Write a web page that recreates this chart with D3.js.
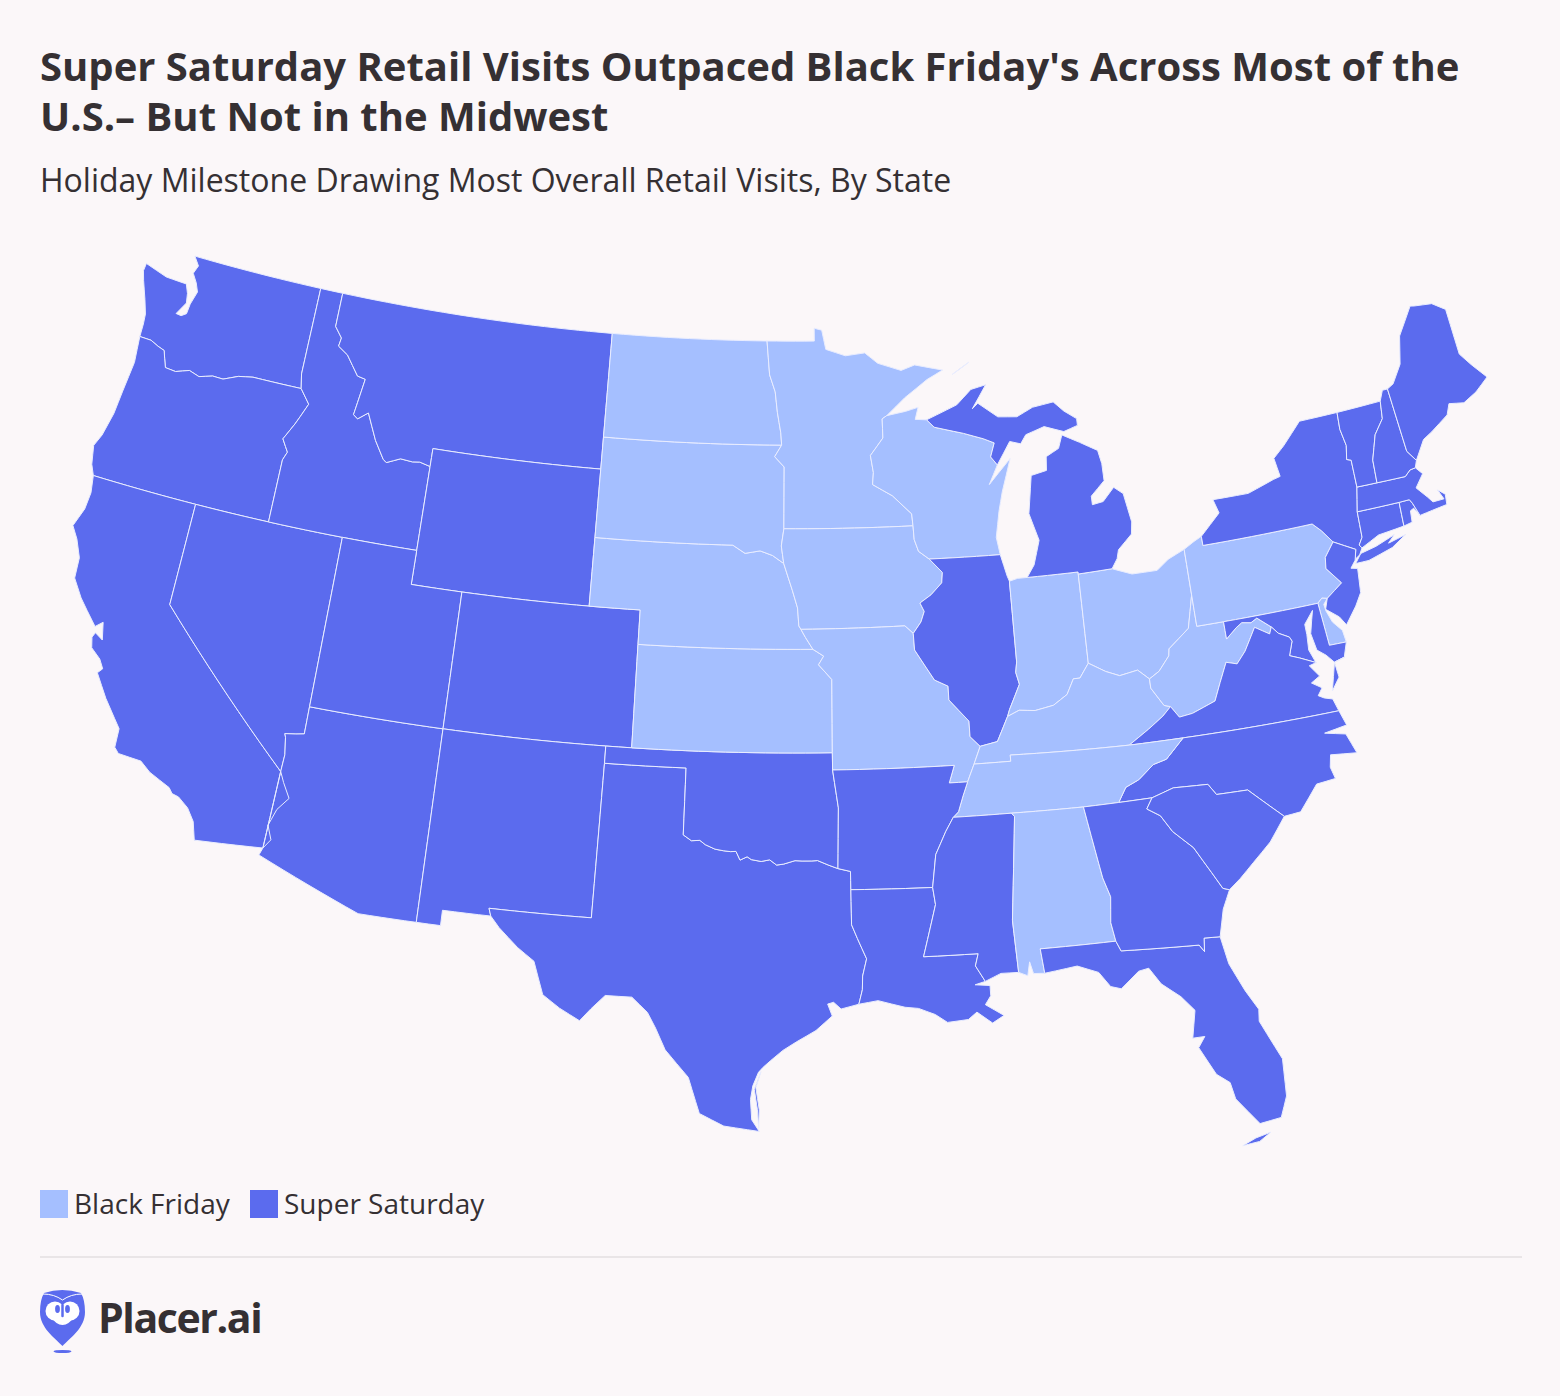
<!DOCTYPE html>
<html>
<head>
<meta charset="utf-8">
<title>Super Saturday vs Black Friday</title>
<script src="https://cdn.jsdelivr.net/npm/d3@7/dist/d3.min.js"></script>
<style>
  html, body { margin: 0; background: #fbf7f9; }
  text { font-family: "Open Sans", sans-serif; fill: #353033; }
</style>
</head>
<body>
<div id="chart"></div>
<script>
const titleLines = ["Super Saturday Retail Visits Outpaced Black Friday's Across Most of the", "U.S.– But Not in the Midwest"];
const subtitle = "Holiday Milestone Drawing Most Overall Retail Visits, By State";
const milestones = ["Black Friday", "Super Saturday"];

// border arcs in lon/lat, shared by the states on both sides
const waCoast = [[-122.76,49],[-122.49,48.75],[-122.62,48.5],[-122.38,48.25],[-122.22,48],[-122.38,47.6],[-122.42,47.3],[-122.62,47.2],[-122.85,47.22],[-122.55,47.6],[-122.62,47.88],[-122.78,48.14],[-123.12,48.15],[-123.7,48.17],[-124.7,48.38],[-124.73,48.15],[-124.6,47.88],[-124.3,47.35],[-124.1,46.95],[-124.06,46.65],[-124.05,46.27]];
const waOr = [[-124.05,46.27],[-123.55,46.26],[-123.2,46.15],[-122.9,46.08],[-122.78,45.85],[-122.65,45.61],[-122.2,45.58],[-121.65,45.72],[-121.2,45.62],[-120.65,45.74],[-120.2,45.73],[-119.6,45.92],[-119,46],[-116.92,46]];
const waId = [[-117.04,49],[-117.04,46.42],[-116.92,46]];
const waNorth = [[-117.04,49],[-122.76,49]];
const orCoast = [[-124.05,46.27],[-123.95,45.5],[-124.07,44.6],[-124.15,43.9],[-124.35,43.2],[-124.55,42.84],[-124.4,42.3],[-124.21,42]];
const orCa = [[-124.21,42],[-120,42]];
const orNv = [[-120,42],[-117.03,42]];
const orId = [[-116.92,46],[-116.47,45.6],[-116.7,45.2],[-116.85,44.95],[-117.2,44.45],[-117.03,44.25],[-116.9,44.1],[-117.03,43.85],[-117.03,42]];
const caCoast = [[-124.21,42],[-124.1,41.5],[-124.15,41],[-124.4,40.44],[-124.1,40.1],[-123.8,39.6],[-123.75,39],[-123.3,38.5],[-122.95,38.2],[-122.5,37.82],[-122.25,38],[-122.1,37.5],[-122.42,37.65],[-122.5,37.5],[-122.4,37.2],[-122,36.95],[-121.8,36.7],[-121.95,36.55],[-121.4,35.9],[-120.9,35.4],[-120.65,35.15],[-120.63,34.6],[-120.45,34.45],[-119.6,34.4],[-119.2,34.15],[-118.8,34],[-118.4,33.85],[-118.25,33.7],[-118,33.65],[-117.6,33.4],[-117.3,33.05],[-117.12,32.53]];
const caMx = [[-117.12,32.53],[-114.72,32.72]];
const caAz = [[-114.72,32.72],[-114.5,33],[-114.7,33.4],[-114.5,33.9],[-114.15,34.28],[-114.45,34.7],[-114.63,35]];
const caNv = [[-120,42],[-120,39],[-114.63,35]];
const nvAz = [[-114.63,35],[-114.6,35.5],[-114.7,36],[-114.75,36.1],[-114.35,36.15],[-114.05,36.2],[-114.05,37]];
const nvUt = [[-114.05,37],[-114.04,42]];
const nvId = [[-117.03,42],[-114.04,42]];
const azUt = [[-114.05,37],[-109.05,37]];
const azNm = [[-109.05,37],[-109.05,31.33]];
const azMx = [[-109.05,31.33],[-111.07,31.33],[-114.81,32.5],[-114.72,32.72]];
const idUt = [[-114.04,42],[-111.05,42]];
const idWy = [[-111.05,42],[-111.05,44.47]];
const idMt = [[-111.05,44.47],[-111.5,44.55],[-111.8,44.52],[-112.3,44.55],[-112.85,44.37],[-113,44.45],[-113.45,44.95],[-113.95,45.7],[-114.35,45.47],[-114.55,45.57],[-114.35,46.65],[-114.7,46.7],[-115.3,47.25],[-115.75,47.45],[-115.7,47.7],[-116.05,48],[-116.05,49]];
const idNorth = [[-116.05,49],[-117.04,49]];
const mtNorth = [[-116.05,49],[-104.05,49]];
const mtWy = [[-111.05,44.47],[-111.05,45],[-104.05,45]];
const ndMt = [[-104.05,49],[-104.05,45.94]];
const sdMt = [[-104.05,45.94],[-104.05,45]];
const wySd = [[-104.05,45],[-104.05,43]];
const wyNe = [[-104.05,43],[-104.05,41]];
const wyCo = [[-104.05,41],[-109.05,41]];
const wyUt = [[-109.05,41],[-111.05,41],[-111.05,42]];
const utCo = [[-109.05,41],[-109.05,37]];
const coNe = [[-104.05,41],[-102.05,41],[-102.05,40]];
const coKs = [[-102.05,40],[-102.04,37]];
const coOk = [[-102.04,37],[-103,37]];
const coNm = [[-103,37],[-109.05,37]];
const nmOk = [[-103,37],[-103,36.5]];
const nmTx = [[-103,36.5],[-103.06,32],[-106.62,32],[-106.53,31.78]];
const nmMx = [[-106.53,31.78],[-108.21,31.78],[-108.21,31.33],[-109.05,31.33]];
const txMx = [[-106.53,31.78],[-106.2,31.47],[-105.5,30.95],[-104.9,30.6],[-104.5,29.65],[-103.9,29.3],[-103.2,28.98],[-102.85,29.35],[-102.4,29.77],[-101.5,29.77],[-100.95,29.35],[-100.65,28.9],[-100.3,28.28],[-99.5,27.5],[-99.1,26.45],[-98.3,26.1],[-97.15,25.96]];
const txCoast = [[-97.15,25.96],[-97.4,26.3],[-97.45,26.9],[-97.38,27.3],[-97.2,27.7],[-97.05,27.85],[-96.8,28.05],[-96.4,28.35],[-95.95,28.6],[-95.3,28.93],[-94.75,29.35],[-94.9,29.7],[-94.7,29.75],[-94.45,29.55],[-93.85,29.68]];
const padre = [[-97.17,26.05],[-97.22,26.6],[-97.33,27.2],[-97.12,27.72],[-97.28,27.25],[-97.16,26.6]];
const txLa = [[-94.04,33.02],[-94.04,32],[-93.85,31.6],[-93.55,31],[-93.7,30.5],[-93.72,30.1],[-93.85,29.68]];
const txAr = [[-94.48,33.64],[-94.04,33.55],[-94.04,33.02]];
const txOk = [[-103,36.5],[-100,36.5],[-100,34.56],[-99.7,34.4],[-99.4,34.42],[-99.2,34.3],[-98.85,34.18],[-98.55,34.14],[-98.3,34.12],[-98.1,34.13],[-97.95,33.88],[-97.7,33.98],[-97.55,33.9],[-97.2,33.85],[-96.9,33.9],[-96.65,33.75],[-96.4,33.78],[-96,33.88],[-95.75,33.87],[-95.4,33.87],[-95.2,33.88],[-94.8,33.74],[-94.48,33.64]];
const okKs = [[-102.04,37],[-94.62,37]];
const okMo = [[-94.62,37],[-94.62,36.5]];
const okAr = [[-94.62,36.5],[-94.43,35.4],[-94.48,33.64]];
const neKs = [[-102.05,40],[-95.31,40]];
const ksMo = [[-95.31,40],[-94.9,39.8],[-95.1,39.55],[-94.6,39.12],[-94.62,37]];
const neSd = [[-104.05,43],[-98.5,43],[-98,42.77],[-97.4,42.85],[-96.9,42.72],[-96.45,42.49]];
const neIa = [[-96.45,42.49],[-96.1,41.7],[-95.9,41.2],[-95.85,40.68],[-95.77,40.58]];
const neMo = [[-95.77,40.58],[-95.6,40.35],[-95.31,40]];
const sdNd = [[-104.05,45.94],[-96.56,45.94]];
const sdMn = [[-96.56,45.94],[-96.85,45.6],[-96.45,45.3],[-96.45,43.5]];
const sdIa = [[-96.45,43.5],[-96.55,43],[-96.45,42.49]];
const ndNorth = [[-104.05,49],[-97.23,49]];
const ndMn = [[-97.23,49],[-97.1,48],[-96.85,47.5],[-96.75,46.9],[-96.6,46.3],[-96.56,45.94]];
const mnNorth = [[-97.23,49],[-95.15,49],[-95.15,49.38],[-94.82,49.32],[-94.65,48.75],[-93.8,48.55],[-92.95,48.62],[-92.4,48.3],[-91.4,48.06],[-90.8,48.2],[-89.6,48]];
const mnLake = [[-89.6,48],[-90.3,47.75],[-91.3,47.25],[-92.1,46.75]];
const mnWi = [[-92.1,46.75],[-92.3,46.66],[-92.3,46.1],[-92.85,45.6],[-92.75,45.1],[-92.8,44.75],[-92,44.4],[-91.25,43.85],[-91.22,43.5]];
const mnIa = [[-91.22,43.5],[-96.45,43.5]];
const iaMo = [[-95.77,40.58],[-91.73,40.61],[-91.42,40.38]];
const iaIl = [[-91.42,40.38],[-91.1,40.7],[-90.95,41],[-91.1,41.25],[-90.65,41.47],[-90.2,41.8],[-90.15,42.1],[-90.64,42.51]];
const iaWi = [[-90.64,42.51],[-91.05,42.75],[-91.2,43.1],[-91.22,43.5]];
const wiIl = [[-90.64,42.51],[-87.8,42.49]];
const wiLake = [[-87.8,42.49],[-87.9,43],[-87.7,43.75],[-87.5,44.3],[-87.05,45.25],[-87.6,44.85],[-88,44.55],[-87.6,45.1]];
const wiMi = [[-87.6,45.1],[-87.85,45.35],[-87.65,45.75],[-88.1,45.9],[-88.9,46.1],[-90.12,46.34],[-90.42,46.57]];
const wiSup = [[-90.42,46.57],[-90.9,46.6],[-90.75,46.95],[-91.3,46.85],[-92.1,46.75]];
const upShore = [[-87.6,45.1],[-87,45.75],[-86.55,45.65],[-86.3,45.9],[-85.5,46.08],[-84.7,45.87],[-84.1,46],[-84.1,46.2],[-84.6,46.47],[-85,46.77],[-85.9,46.68],[-86.6,46.45],[-87.4,46.5],[-88.2,46.95],[-88.45,46.8],[-87.8,47.47],[-88.45,47.37],[-89.1,46.95],[-90.42,46.57]];
const isleRoyale = [[-89.2,47.85],[-88.45,48.17],[-88.9,47.98]];
const miShore = [[-86.82,41.76],[-86.5,42.1],[-86.2,42.8],[-86.5,43.6],[-86.25,44.7],[-85.6,44.8],[-85.55,45.2],[-85,45.4],[-84.8,45.78],[-84.1,45.5],[-83.4,45.2],[-83.3,44.8],[-83.3,44.3],[-83.9,43.9],[-83.9,43.65],[-83.45,43.7],[-82.95,44.07],[-82.6,43.85],[-82.42,43],[-82.5,42.65],[-83.1,42.25],[-83.2,42],[-83.45,41.73]];
const miOh = [[-83.45,41.73],[-84.8,41.7]];
const miIn = [[-84.8,41.7],[-84.8,41.76],[-86.82,41.76]];
const ilLake = [[-87.8,42.49],[-87.6,41.85],[-87.53,41.7]];
const ilIn = [[-87.53,41.7],[-87.53,39.35],[-87.6,39.05],[-87.5,38.7],[-87.95,38],[-88.05,37.8]];
const ilKy = [[-88.05,37.8],[-88.5,37.1],[-89.15,37]];
const ilMo = [[-89.15,37],[-89.5,37.3],[-89.5,37.75],[-90.2,38.4],[-90.2,38.8],[-90.7,39],[-91.4,39.9],[-91.42,40.38]];
const inLake = [[-87.53,41.7],[-87.2,41.76],[-86.82,41.76]];
const inOh = [[-84.8,41.7],[-84.82,39.1]];
const inKy = [[-84.82,39.1],[-85.2,38.7],[-85.45,38.7],[-85.75,38.27],[-86.3,38],[-87,37.9],[-87.6,37.95],[-88.05,37.8]];
const ohLake = [[-83.45,41.73],[-82.7,41.5],[-81.7,41.5],[-81.2,41.77],[-80.52,41.98]];
const ohPa = [[-80.52,41.98],[-80.52,40.64]];
const ohWv = [[-80.52,40.64],[-80.85,39.7],[-81.7,39.2],[-81.75,39],[-82.2,38.6],[-82.6,38.42]];
const ohKy = [[-82.6,38.42],[-83,38.72],[-83.7,38.63],[-84.2,38.8],[-84.82,39.1]];
const paLake = [[-80.52,41.98],[-80.08,42.16],[-79.76,42.27]];
const paNy = [[-79.76,42.27],[-79.76,42],[-75.35,42],[-75.05,41.75],[-74.7,41.36]];
const paNj = [[-74.7,41.36],[-75.13,40.97],[-75.2,40.65],[-74.73,40.15],[-75.4,39.8]];
const paDe = [[-75.4,39.8],[-75.6,39.84],[-75.79,39.72]];
const paMd = [[-75.79,39.72],[-79.48,39.72]];
const paWv = [[-79.48,39.72],[-80.52,39.72],[-80.52,40.64]];
const nyLake = [[-79.76,42.27],[-78.9,42.85],[-79.05,43.26],[-77.6,43.25],[-76.5,43.5],[-76.2,43.55],[-76.3,44.1],[-75.8,44.4],[-74.95,45]];
const nyNorth = [[-74.95,45],[-73.35,45]];
const nyVt = [[-73.35,45],[-73.4,44.5],[-73.3,44],[-73.42,43.6],[-73.25,43.55],[-73.28,42.75]];
const nyMa = [[-73.28,42.75],[-73.5,42.05]];
const nyCt = [[-73.5,42.05],[-73.55,41.3],[-73.73,41.1],[-73.65,41]];
const nyCoast = [[-73.65,41],[-73.8,40.82],[-73.95,40.75],[-74.02,40.7]];
const nyNj = [[-74.02,40.7],[-73.9,41],[-74.7,41.36]];
const longIsland = [[-74.03,40.6],[-73.75,40.85],[-73.1,40.95],[-72.3,41.15],[-72.6,40.95],[-71.87,41.07],[-72.5,40.8],[-73.5,40.6]];
const njCoast = [[-74.02,40.7],[-74.25,40.5],[-74,40.45],[-74.1,39.75],[-74.4,39.4],[-74.9,38.93],[-75.1,39.2],[-75.55,39.5],[-75.4,39.8]];
const deMd = [[-75.79,39.72],[-75.7,38.46],[-75.05,38.45]];
const deCoast = [[-75.05,38.45],[-75.1,38.8],[-75.4,39.1],[-75.55,39.45],[-75.58,39.65],[-75.4,39.8]];
const mdCoast = [[-75.05,38.45],[-75.25,38.03]];
const vaMdEast = [[-75.25,38.03],[-75.65,37.95]];
const mdBay = [[-75.65,37.95],[-75.9,38.2],[-76.2,38.4],[-76.3,38.9],[-76.15,39.3],[-76.05,39.55],[-76.45,39.2],[-76.45,38.9],[-76.5,38.45],[-76.35,38.1],[-76.32,38.05]];
const mdVa = [[-76.32,38.05],[-76.9,38.28],[-77.25,38.4],[-77.05,38.8],[-77.12,38.93],[-77.5,39.1],[-77.72,39.32]];
const mdWv = [[-77.72,39.32],[-78.2,39.65],[-78.45,39.55],[-78.8,39.6],[-79.05,39.48],[-79.48,39.21],[-79.48,39.72]];
const vaBay = [[-76.32,38.05],[-76.6,38],[-76.3,37.65],[-76.65,37.5],[-76.3,37.3],[-76.5,37.1],[-76.3,37],[-76,36.92],[-75.87,36.55]];
const vaShore = [[-75.65,37.95],[-75.95,37.15],[-75.6,37.5]];
const vaNc = [[-75.87,36.55],[-81.68,36.59]];
const vaTn = [[-81.68,36.59],[-83.68,36.6]];
const vaKy = [[-83.68,36.6],[-82.9,36.98],[-82.3,37.3],[-81.97,37.54]];
const vaWv = [[-81.97,37.54],[-81.7,37.2],[-81.2,37.25],[-80.3,37.5],[-80,38],[-79.65,38.55],[-79.25,38.45],[-78.87,38.77],[-78.35,39.4],[-77.83,39.13],[-77.72,39.32]];
const kyWv = [[-82.6,38.42],[-82.6,38.15],[-82.2,37.6],[-81.97,37.54]];
const kyTn = [[-89.42,36.5],[-88.07,36.5],[-88.07,36.68],[-83.68,36.6]];
const kyMo = [[-89.15,37],[-89.42,36.5]];
const moAr = [[-94.62,36.5],[-90.15,36.5],[-90.37,36],[-89.7,36]];
const moTn = [[-89.42,36.5],[-89.7,36]];
const tnAr = [[-89.7,36],[-89.9,35.6],[-90.1,35.15],[-90.3,35]];
const tnMs = [[-90.3,35],[-88.2,35]];
const tnAl = [[-88.2,35],[-85.6,34.98]];
const tnGa = [[-85.6,34.98],[-84.32,34.99]];
const tnNc = [[-84.32,34.99],[-84,35.4],[-83.5,35.57],[-82.9,35.95],[-82.4,36.05],[-81.68,36.59]];
const arMs = [[-90.3,35],[-90.6,34.6],[-91,33.95],[-91.17,33]];
const arLa = [[-91.17,33],[-94.04,33.02]];
const laMs = [[-91.17,33],[-91.1,32.5],[-91.6,31],[-89.73,31],[-89.85,30.65],[-89.55,30.18]];
const laCoast = [[-89.55,30.18],[-89.9,30.1],[-89.4,30.05],[-89.4,29.75],[-89.6,29.5],[-89,29.15],[-89.4,28.95],[-89.9,29.3],[-90.2,29.1],[-90.9,29.05],[-91.3,29.3],[-91.85,29.5],[-92.3,29.55],[-93.2,29.77],[-93.85,29.68]];
const msCoast = [[-89.55,30.18],[-89,30.38],[-88.4,30.37]];
const msAl = [[-88.4,30.37],[-88.47,31.9],[-88.1,34.9],[-88.2,35]];
const alCoast = [[-88.4,30.37],[-88.1,30.25],[-88,30.65],[-87.9,30.3],[-87.52,30.28]];
const alFl = [[-87.52,30.28],[-87.6,31],[-85,31]];
const alGa = [[-85,31],[-85.1,31.55],[-85,32.3],[-85.2,32.87],[-85.6,34.98]];
const flGa = [[-85,31],[-84.86,30.7],[-82.2,30.57],[-82.05,30.36],[-82,30.75],[-81.45,30.72]];
const flCoast = [[-81.45,30.72],[-81.3,29.9],[-80.9,29.05],[-80.55,28.45],[-80.6,28.1],[-80.05,26.9],[-80.12,25.8],[-80.4,25.2],[-81.1,25.12],[-81.75,25.95],[-81.85,26.45],[-82.25,26.75],[-82.7,27.6],[-82.45,27.9],[-82.85,27.9],[-82.65,28.7],[-83.05,29.15],[-83.65,29.6],[-84,30.1],[-84.35,30.05],[-85,29.6],[-85.35,29.7],[-85.7,30.15],[-86.4,30.4],[-87.52,30.28]];
const keys = [[-81.75,24.55],[-81.2,24.6],[-80.8,24.82],[-81.3,24.72]];
const gaNc = [[-84.32,34.99],[-83.11,35]];
const gaSc = [[-83.11,35],[-83.35,34.7],[-82.9,34.45],[-82.55,33.95],[-81.9,33.4],[-81.4,32.6],[-81.1,32.1],[-80.88,32.03]];
const gaCoast = [[-80.88,32.03],[-81.2,31.5],[-81.45,30.72]];
const scNc = [[-83.11,35],[-82.3,35.2],[-81.05,35.15],[-80.8,34.82],[-79.67,34.8],[-78.55,33.86]];
const scCoast = [[-78.55,33.86],[-79.2,33.2],[-79.9,32.7],[-80.45,32.3],[-80.88,32.03]];
const ncCoast = [[-75.87,36.55],[-75.7,36.1],[-76.55,36],[-75.8,35.85],[-75.55,35.25],[-76.5,35.35],[-76.6,35],[-76.5,34.65],[-77.2,34.6],[-77.95,33.9],[-78.55,33.86]];
const ctMa = [[-73.5,42.05],[-71.8,42.02]];
const ctRi = [[-71.8,42.02],[-71.85,41.32]];
const ctCoast = [[-71.85,41.32],[-72.9,41.25],[-73.65,41]];
const riMa = [[-71.8,42.02],[-71.38,42.02],[-71.3,41.9],[-71.13,41.5]];
const riCoast = [[-71.13,41.5],[-71.3,41.75],[-71.45,41.7],[-71.5,41.37],[-71.85,41.32]];
const maVt = [[-73.28,42.75],[-72.46,42.73]];
const maNh = [[-72.46,42.73],[-71.3,42.7],[-71.05,42.85],[-70.82,42.87]];
const maCoast = [[-70.82,42.87],[-70.6,42.65],[-71,42.3],[-70.65,41.95],[-70.5,41.78],[-70.05,41.78],[-70.2,42.08],[-69.95,41.9],[-70,41.6],[-70.6,41.55],[-71.13,41.5]];
const vtNorth = [[-73.35,45],[-71.5,45.01]];
const nhVt = [[-72.46,42.73],[-72.4,43.4],[-72.05,44.1],[-71.6,44.5],[-71.5,45.01]];
const nhNorth = [[-71.5,45.01],[-71.3,45.3],[-71.08,45.3]];
const nhMe = [[-71.08,45.3],[-70.98,43.4],[-70.7,43.07]];
const nhCoast = [[-70.7,43.07],[-70.82,42.87]];
const meCoast = [[-70.7,43.07],[-70.2,43.6],[-69.8,43.75],[-69,44.1],[-68.8,44.4],[-68.2,44.3],[-67.6,44.5],[-66.98,44.82]];
const meNorth = [[-66.98,44.82],[-67.45,45.3],[-67.8,45.7],[-67.8,47.07],[-68.3,47.35],[-69.05,47.43],[-69.22,47.46],[-70,46.7],[-70.3,45.9],[-70.8,45.4],[-71.08,45.3]];

const rev = a => a.slice().reverse();

const stateNames = ["Washington","Oregon","California","Nevada","Arizona","Idaho","Montana","Wyoming","Utah","Colorado","New Mexico","Texas","Oklahoma","Kansas","Nebraska","South Dakota","North Dakota","Minnesota","Iowa","Missouri","Wisconsin","Illinois","Indiana","Ohio","Michigan","Kentucky","West Virginia","Pennsylvania","New York","New Jersey","Delaware","Maryland","Virginia","North Carolina","Tennessee","Arkansas","Louisiana","Mississippi","Alabama","Florida","Georgia","South Carolina","Connecticut","Rhode Island","Massachusetts","Vermont","New Hampshire","Maine"];

// 0 = Black Friday, 1 = Super Saturday
const stateMilestone = [1,1,1,1,1,1,1,1,1,1,1,1,1,0,0,0,0,0,0,0,0,1,0,0,1,0,0,0,1,1,0,1,1,1,0,1,1,1,0,1,1,1,1,1,1,1,1,1];

// each state is a list of rings, each ring a list of arcs
const stateRings = [
  [[waCoast, waOr, rev(waId), waNorth]],
  [[orCoast, orCa, orNv, rev(orId), rev(waOr)]],
  [[caCoast, caMx, caAz, rev(caNv), rev(orCa)]],
  [[orNv, nvId, rev(nvUt), rev(nvAz), rev(caNv)]],
  [[nvAz, azUt, azNm, azMx, rev(caAz)]],
  [[orId, nvId, idUt, idWy, idMt, idNorth, waId]],
  [[mtNorth, ndMt, sdMt, rev(mtWy), idMt]],
  [[mtWy, wySd, wyNe, wyCo, wyUt, idWy]],
  [[nvUt, idUt, rev(wyUt), utCo, rev(azUt)]],
  [[rev(wyCo), coNe, coKs, coOk, coNm, rev(utCo)]],
  [[rev(coNm), nmOk, nmTx, nmMx, rev(azNm)]],
  [[txOk, txAr, txLa, rev(txCoast), rev(txMx), rev(nmTx)], [padre]],
  [[rev(coOk), okKs, okMo, okAr, rev(txOk), rev(nmOk)]],
  [[neKs, ksMo, rev(okKs), rev(coKs)]],
  [[neSd, neIa, neMo, rev(neKs), rev(coNe), rev(wyNe)]],
  [[sdNd, sdMn, sdIa, rev(neSd), rev(wySd), rev(sdMt)]],
  [[ndNorth, ndMn, rev(sdNd), rev(ndMt)]],
  [[mnNorth, mnLake, mnWi, mnIa, rev(sdMn), rev(ndMn)]],
  [[rev(mnIa), rev(iaWi), rev(iaIl), rev(iaMo), rev(neIa), rev(sdIa)]],
  [[iaMo, rev(ilMo), kyMo, moTn, rev(moAr), rev(okMo), rev(ksMo), rev(neMo)]],
  [[wiLake, wiMi, wiSup, mnWi, rev(iaWi), wiIl]],
  [[rev(wiIl), rev(iaIl), rev(ilMo), rev(ilKy), rev(ilIn), rev(ilLake)]],
  [[inLake, rev(miIn), inOh, inKy, rev(ilIn)]],
  [[ohLake, ohPa, ohWv, ohKy, rev(inOh), rev(miOh)]],
  [[miShore, miOh, miIn], [rev(wiMi), upShore], [isleRoyale]],
  [[rev(ohKy), kyWv, rev(vaKy), rev(kyTn), rev(kyMo), rev(ilKy), rev(inKy)]],
  [[paWv, ohWv, kyWv, vaWv, mdWv]],
  [[paLake, paNy, paNj, paDe, paMd, paWv, rev(ohPa)]],
  [[nyLake, nyNorth, nyVt, nyMa, nyCt, nyCoast, nyNj, rev(paNy)], [longIsland]],
  [[rev(nyNj), njCoast, rev(paNj)]],
  [[deMd, deCoast, paDe]],
  [[rev(paMd), deMd, mdCoast, vaMdEast, mdBay, mdVa, mdWv]],
  [[rev(mdVa), vaBay, vaNc, vaTn, vaKy, vaWv], [rev(vaMdEast), vaShore]],
  [[rev(vaNc), ncCoast, rev(scNc), rev(gaNc), tnNc]],
  [[kyTn, rev(vaTn), rev(tnNc), rev(tnGa), rev(tnAl), rev(tnMs), rev(tnAr), rev(moTn)]],
  [[moAr, tnAr, arMs, arLa, rev(txAr), rev(okAr)]],
  [[rev(arLa), laMs, laCoast, rev(txLa)]],
  [[rev(arMs), tnMs, rev(msAl), rev(msCoast), rev(laMs)]],
  [[msAl, tnAl, rev(alGa), rev(alFl), rev(alCoast)]],
  [[alFl, flGa, flCoast], [keys]],
  [[alGa, tnGa, gaNc, gaSc, gaCoast, rev(flGa)]],
  [[scNc, scCoast, rev(gaSc)]],
  [[ctMa, ctRi, ctCoast, rev(nyCt)]],
  [[riMa, riCoast, rev(ctRi)]],
  [[maVt, maNh, maCoast, rev(riMa), rev(ctMa), rev(nyMa)]],
  [[vtNorth, rev(nhVt), rev(maVt), rev(nyVt)]],
  [[nhVt, nhNorth, nhMe, nhCoast, rev(maNh)]],
  [[meCoast, meNorth, nhMe]]
];

const width = 1560;
const height = 1396;
const colors = d3.scaleOrdinal().domain(milestones).range(["#a5bfff", "#5b6bee"]);

const svg = d3.select("#chart")
  .append("svg")
  .attr("width", width)
  .attr("height", height)
  .attr("viewBox", `0 0 ${width} ${height}`)
  .style("display", "block");

svg.selectAll(".title")
  .data(titleLines)
  .enter()
  .append("text")
  .attr("class", "title")
  .attr("x", 40)
  .attr("y", (d, i) => 81 + i * 50)
  .attr("font-size", 40)
  .attr("font-weight", 700)
  .text(d => d);

svg.append("text")
  .attr("x", 40)
  .attr("y", 192)
  .attr("font-size", 32)
  .text(subtitle);

const projection = d3.geoAlbers()
  .rotate([96, 0])
  .center([0, 37])
  .scale(1960)
  .translate([795, 753]);

const path = d3.geoPath(projection);

// borders follow parallels, so cut long edges before the great arc step
function fineRing(arcs) {
  const pts = arcs.flat();
  const out = [];
  pts.forEach((p, i) => {
    const q = pts[(i + 1) % pts.length];
    const steps = Math.ceil(Math.max(Math.abs(q[0] - p[0]), Math.abs(q[1] - p[1])) / 0.5) || 1;
    d3.range(steps).forEach(s => {
      out.push([p[0] + (q[0] - p[0]) * s / steps, p[1] + (q[1] - p[1]) * s / steps]);
    });
  });
  out.push(out[0]);
  return out;
}

function stateShape(rings) {
  const coordinates = rings.map(arcs => {
    const ring = fineRing(arcs);
    return [d3.geoArea({ type: "Polygon", coordinates: [ring] }) > 2 * Math.PI ? ring.reverse() : ring];
  });
  return { type: "MultiPolygon", coordinates };
}

svg.append("g")
  .selectAll("path")
  .data(stateNames)
  .enter()
  .append("path")
  .attr("d", (d, i) => path(stateShape(stateRings[i])))
  .attr("fill", (d, i) => colors(milestones[stateMilestone[i]]))
  .attr("stroke", "#e9edff")
  .attr("stroke-width", 1)
  .attr("stroke-linejoin", "round");

// legend
const legendX = [40, 250];
const legend = svg.selectAll(".legend")
  .data(milestones)
  .enter()
  .append("g")
  .attr("class", "legend")
  .attr("transform", (d, i) => `translate(${legendX[i]}, 1190)`);

legend.append("rect")
  .attr("width", 28)
  .attr("height", 28)
  .attr("fill", d => colors(d));

legend.append("text")
  .attr("x", 34)
  .attr("y", 24)
  .attr("font-size", 28)
  .text(d => d);

svg.append("line")
  .attr("x1", 40)
  .attr("x2", 1522)
  .attr("y1", 1257)
  .attr("y2", 1257)
  .attr("stroke", "#e9e5e7")
  .attr("stroke-width", 2);

// owl logo
const logo = svg.append("g").attr("transform", "translate(40, 1290)");
logo.append("path")
  .attr("d", "M4 3 Q22 -3 41 3 Q45 10 45 22 C45 38 30 48 22.5 56 C15 48 0 38 0 22 Q0 10 4 3 Z")
  .attr("fill", "#5b6bee");
logo.append("path")
  .attr("d", "M3 4 Q14 4 22.5 10 Q31 4 42 4")
  .attr("fill", "none")
  .attr("stroke", "#ffffff")
  .attr("stroke-width", 1);
logo.selectAll(".eye")
  .data([15, 30])
  .enter()
  .append("circle")
  .attr("class", "eye")
  .attr("cx", d => d).attr("cy", 21)
  .attr("r", 9.5)
  .attr("fill", "#ffffff");
logo.append("path")
  .attr("d", "M10 26 Q22.5 44 35 26 Z")
  .attr("fill", "#ffffff");
logo.selectAll(".pupil")
  .data([17.5, 27.5])
  .enter()
  .append("ellipse")
  .attr("class", "pupil")
  .attr("cx", d => d).attr("cy", 19)
  .attr("rx", 2.4).attr("ry", 4)
  .attr("fill", "#5b6bee");
logo.append("path")
  .attr("d", "M22.5 15 L22.5 26")
  .attr("stroke", "#5b6bee")
  .attr("stroke-width", 2.5)
  .attr("stroke-linecap", "round");
logo.append("ellipse")
  .attr("cx", 22.5).attr("cy", 61.5)
  .attr("rx", 9).attr("ry", 1.6)
  .attr("fill", "#5b6bee");

svg.append("text")
  .attr("x", 98)
  .attr("y", 1333)
  .attr("font-size", 41)
  .attr("font-weight", 700)
  .attr("letter-spacing", -1.4)
  .text("Placer.ai");
</script>
</body>
</html>
